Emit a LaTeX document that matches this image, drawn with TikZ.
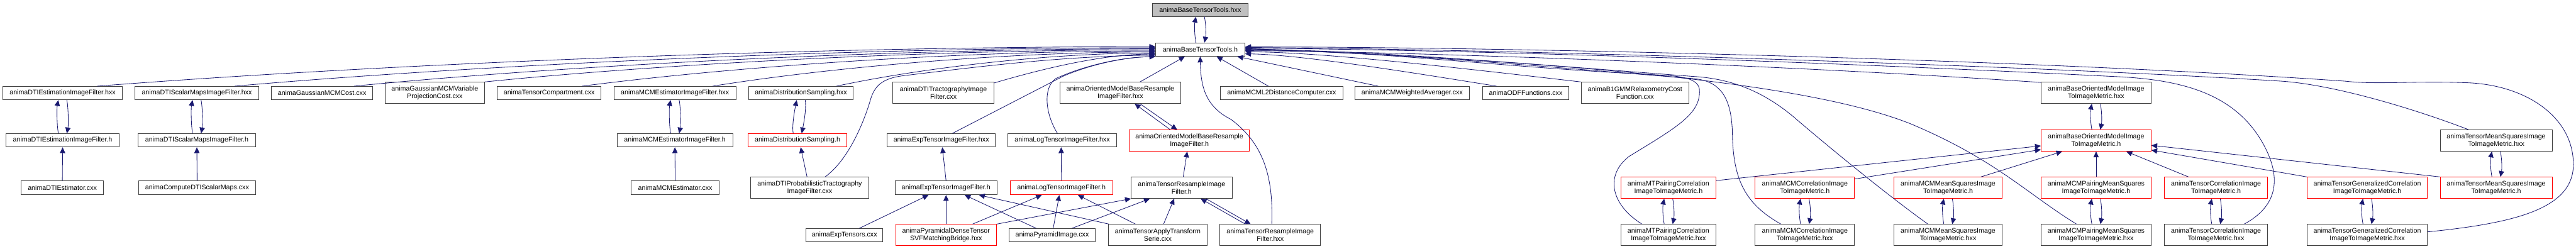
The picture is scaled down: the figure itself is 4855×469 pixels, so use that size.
\documentclass[tikz,border=0pt]{standalone}
\usepackage{fontspec}
\setmainfont{Liberation Sans}
\usetikzlibrary{arrows.meta}
\definecolor{eblue}{HTML}{191970}
\definecolor{bgray}{HTML}{404040}
\definecolor{fgray}{HTML}{BFBFBF}
\tikzset{
 nb/.style={draw=bgray, line width=1.2pt, inner sep=0pt, align=center, fill=white, font=\fontsize{12.65}{15}\selectfont},
 nr/.style={nb, draw=red},
 ng/.style={nb, fill=fgray},
 e/.style={draw=eblue, line width=1pt, -{Triangle[length=11pt,width=10pt]}},
}
\newcommand\nd[7]{\node[#7, minimum width={#3-#2}, minimum height={#5-#4}] (#1) at ({(#2+#3)/2},{(#4+#5)/2}) {#6};}
\newcommand\pair[2]{%
 \draw[e] ([xshift=-8]#2.north) .. controls +(-3,-15) and +(-3,15) .. ([xshift=-8]#1.south);
 \draw[e] ([xshift=8]#1.south) .. controls +(3,15) and +(3,-15) .. ([xshift=8]#2.north);}
\begin{document}
\begin{tikzpicture}[x=1pt,y=-1pt]
\useasboundingbox (0,0) rectangle (4855,469);
% row 0/1
\nd{bthx}{2172}{2352}{6}{31}{animaBaseTensorTools.hxx}{ng}
\nd{bth}{2178}{2346}{81}{106}{animaBaseTensorTools.h}{nb}
% row 2
\nd{dtiex}{5}{231}{163}{188}{animaDTIEstimationImageFilter.hxx}{nb}
\nd{dtisx}{254}{488}{163}{188}{animaDTIScalarMapsImageFilter.hxx}{nb}
\nd{gmc}{512}{702}{163}{188}{animaGaussianMCMCost.cxx}{nb}
\nd{gmv}{726}{913}{155}{195}{animaGaussianMCMVariable\\ProjectionCost.cxx}{nb}
\nd{tcomp}{937}{1133}{163}{188}{animaTensorCompartment.cxx}{nb}
\nd{mcmex}{1157}{1387}{163}{188}{animaMCMEstimatorImageFilter.hxx}{nb}
\nd{dsx}{1411}{1608}{163}{188}{animaDistributionSampling.hxx}{nb}
\nd{dtit}{1683}{1873}{155}{195}{animaDTITractographyImage\\Filter.cxx}{nb}
\nd{ombx}{1998}{2225}{155}{195}{animaOrientedModelBaseResample\\ImageFilter.hxx}{nb}
\nd{l2d}{2300}{2531}{163}{188}{animaMCML2DistanceComputer.cxx}{nb}
\nd{wavg}{2554}{2769}{163}{188}{animaMCMWeightedAverager.cxx}{nb}
\nd{odf}{2794}{2957}{163}{188}{animaODFFunctions.cxx}{nb}
\nd{b1}{2980}{3183}{155}{195}{animaB1GMMRelaxometryCost\\Function.cxx}{nb}
\nd{bomx}{3847}{4054}{155}{195}{animaBaseOrientedModelImage\\ToImageMetric.hxx}{nb}
% row 3
\nd{dtieh}{11}{225}{252}{277}{animaDTIEstimationImageFilter.h}{nb}
\nd{dtish}{260}{482}{252}{277}{animaDTIScalarMapsImageFilter.h}{nb}
\nd{mcmeh}{1163}{1381}{252}{277}{animaMCMEstimatorImageFilter.h}{nb}
\nd{dsh}{1410}{1596}{252}{277}{animaDistributionSampling.h}{nr}
\nd{expx}{1672}{1876}{252}{277}{animaExpTensorImageFilter.hxx}{nb}
\nd{logx}{1900}{2104}{252}{277}{animaLogTensorImageFilter.hxx}{nb}
\nd{ombh}{2128}{2355}{245}{285}{animaOrientedModelBaseResample\\ImageFilter.h}{nr}
\nd{bomh}{3847}{4054}{245}{285}{animaBaseOrientedModelImage\\ToImageMetric.h}{nr}
\nd{tmsx}{4599}{4810}{245}{285}{animaTensorMeanSquaresImage\\ToImageMetric.hxx}{nb}
% row 4
\nd{dtiec}{40}{195}{341}{367}{animaDTIEstimator.cxx}{nb}
\nd{cdti}{261}{482}{341}{367}{animaComputeDTIScalarMaps.cxx}{nb}
\nd{mcmec}{1190}{1355}{341}{367}{animaMCMEstimator.cxx}{nb}
\nd{dtip}{1415}{1637}{334}{374}{animaDTIProbabilisticTractography\\ImageFilter.cxx}{nb}
\nd{exph}{1687}{1879}{341}{367}{animaExpTensorImageFilter.h}{nb}
\nd{logh}{1904}{2097}{341}{367}{animaLogTensorImageFilter.h}{nr}
\nd{trh}{2132}{2322}{334}{374}{animaTensorResampleImage\\Filter.h}{nb}
\nd{mtpch}{3055}{3234}{334}{374}{animaMTPairingCorrelation\\ImageToImageMetric.h}{nr}
\nd{mcmch}{3308}{3495}{334}{374}{animaMCMCorrelationImage\\ToImageMetric.h}{nr}
\nd{mcmmsh}{3570}{3773}{334}{374}{animaMCMMeanSquaresImage\\ToImageMetric.h}{nr}
\nd{mcmpmsh}{3847}{4054}{334}{374}{animaMCMPairingMeanSquares\\ImageToImageMetric.h}{nr}
\nd{tch}{4079}{4274}{334}{374}{animaTensorCorrelationImage\\ToImageMetric.h}{nr}
\nd{tgch}{4348}{4575}{334}{374}{animaTensorGeneralizedCorrelation\\ImageToImageMetric.h}{nr}
\nd{tmsh}{4599}{4810}{334}{374}{animaTensorMeanSquaresImage\\ToImageMetric.h}{nr}
% row 5
\nd{expc}{1519}{1664}{431}{456}{animaExpTensors.cxx}{nb}
\nd{pyrb}{1688}{1878}{423}{463}{animaPyramidalDenseTensor\\SVFMatchingBridge.hxx}{nr}
\nd{pyrc}{1902}{2064}{431}{456}{animaPyramidImage.cxx}{nb}
\nd{tats}{2089}{2275}{423}{463}{animaTensorApplyTransform\\Serie.cxx}{nb}
\nd{trx}{2299}{2489}{423}{463}{animaTensorResampleImage\\Filter.hxx}{nb}
\nd{mtpcx}{3055}{3234}{423}{463}{animaMTPairingCorrelation\\ImageToImageMetric.hxx}{nb}
\nd{mcmcx}{3308}{3495}{423}{463}{animaMCMCorrelationImage\\ToImageMetric.hxx}{nb}
\nd{mcmmsx}{3570}{3773}{423}{463}{animaMCMMeanSquaresImage\\ToImageMetric.hxx}{nb}
\nd{mcmpmsx}{3847}{4054}{423}{463}{animaMCMPairingMeanSquares\\ImageToImageMetric.hxx}{nb}
\nd{tcx}{4079}{4274}{423}{463}{animaTensorCorrelationImage\\ToImageMetric.hxx}{nb}
\nd{tgcx}{4348}{4575}{423}{463}{animaTensorGeneralizedCorrelation\\ImageToImageMetric.hxx}{nb}

% pairs h <-> hxx
\pair{bthx}{bth}
\pair{dtiex}{dtieh}
\pair{dtisx}{dtish}
\pair{mcmex}{mcmeh}
\pair{dsx}{dsh}
\pair{bomx}{bomh}
\pair{tmsx}{tmsh}
\pair{mtpch}{mtpcx}
\pair{mcmch}{mcmcx}
\pair{mcmmsh}{mcmmsx}
\pair{mcmpmsh}{mcmpmsx}
\pair{tch}{tcx}
\pair{tgch}{tgcx}

% short edges, left part
\draw[e] (dtiec.north) -- (dtieh.south);
\draw[e] (cdti.north) -- (dtish.south);
\draw[e] (mcmec.north) -- (mcmeh.south);
\draw[e] ([xshift=-5]dtip.north) -- ([xshift=6]dsh.south);
\draw[e] (exph.north) -- ([xshift=2]expx.south);
\draw[e] (logh.north) -- ([xshift=-2]logx.south);
\draw[e] ([xshift=28]expc.north) -- ([xshift=-33]exph.south);
\draw[e] (pyrb.north) -- (exph.south);
\draw[e] ([xshift=-30]pyrc.north) -- ([xshift=35]exph.south);
\draw[e] ([xshift=-92]tats.north) -- ([xshift=62]exph.south);
\draw[e] ([xshift=50]pyrb.north) -- ([xshift=-37]logh.south);
\draw[e] ([xshift=2]pyrc.north) -- ([xshift=-4]logh.south);
\draw[e] ([xshift=-42]tats.north) -- ([xshift=31]logh.south);
\draw[e] (pyrb.north east) -- (trh.south west);
\draw[e] ([xshift=37]pyrc.north) -- ([xshift=-60]trh.south);
\draw[e] ([xshift=11]tats.north) -- ([xshift=-14]trh.south);
\draw[e] ([xshift=-47]trx.north) -- ([xshift=36]trh.south);
\draw[e] ([xshift=46]trh.south) -- ([xshift=-37]trx.north);
\draw[e] ([xshift=3]trh.north) -- ([xshift=-4]ombh.south);
\draw[e] ([xshift=-36]ombh.north) -- ([xshift=27]ombx.south);
\draw[e] ([xshift=37]ombx.south) -- ([xshift=-23]ombh.north);
\draw[e] ([xshift=37]ombx.north) -- ([xshift=-29]bth.south);
\draw[e] ([xshift=-25]l2d.north) -- ([xshift=31]bth.south);
\draw[e] ([xshift=-64]wavg.north) -- ([xshift=70]bth.south);

% long edges into bth from the left
\draw[e] ([xshift=65]dtiex.north) .. controls (703,122) and (1498,88) .. ([yshift=5.5]bth.west);
\draw[e] ([xshift=71]dtisx.north) .. controls (892,123) and (1588,90) .. ([yshift=3.5]bth.west);
\draw[e] ([xshift=60]gmc.north) .. controls (1057,124) and (1668,92) .. ([yshift=1.5]bth.west);
\draw[e] (gmv.north east) .. controls (1243,121) and (1748,94) .. ([yshift=-0.5]bth.west);
\draw[e] ([xshift=62]tcomp.north) .. controls (1377,126) and (1808,96) .. ([yshift=-2.5]bth.west);
\draw[e] ([xshift=71]mcmex.north) .. controls (1563,127) and (1898,98) .. ([yshift=-4.5]bth.west);
\draw[e] ([xshift=67]dsx.north) .. controls (1737,128) and (1978,100) .. ([yshift=-6.5]bth.west);
\draw[e] ([yshift=-2]dtit.north east) .. controls (1963,130) and (2078,102) .. ([yshift=-8.5]bth.west);
\draw[e] ([xshift=29]dtip.north) .. controls (1595,305) and (1625,240) .. (1640,190)
   .. controls (1648,160) and (1665,148) .. (1700,143)
   .. controls (1850,125) and (2000,106) .. ([yshift=-10.5]bth.west);
\draw[e] ([xshift=21]expx.north) -- (2005,143) .. controls (2060,120) and (2120,108) .. (bth.south west);
\draw[e] ([xshift=-9]logx.north) .. controls (1970,215) and (1965,165) .. (1990,148)
   .. controls (2040,125) and (2110,108) .. (bth.south west);

% long edges into bth from the right
\draw[e] ([xshift=3]trx.north) .. controls (2400,330) and (2380,270) .. (2320,225)
   .. controls (2270,200) and (2263,160) .. (bth.south);
\draw[e] ([xshift=-55]odf.north) .. controls (2650,135) and (2450,103) .. ([yshift=-8]bth.east);
\draw[e] (b1.north west) .. controls (2750,128) and (2500,99) .. ([yshift=-4]bth.east);
\draw[e] ([yshift=-1]bomx.north west) .. controls (3400,125) and (2700,98) .. ([yshift=-2]bth.east);
\draw[e] ([xshift=-50]mtpcx.north) .. controls (3035,385) and (3025,330) .. (3070,295)
   .. controls (3160,240) and (3205,215) .. (3203,170)
   .. controls (3202,148) and (3170,143) .. (3120,141)
   .. controls (2800,125) and (2600,95) .. ([yshift=-1]bth.east);
\draw[e] ([xshift=-45]mcmcx.north) .. controls (3290,385) and (3266,340) .. (3265,250)
   .. controls (3263,180) and (3240,152) .. (3190,148)
   .. controls (2900,125) and (2600,97) .. (bth.east);
\draw[e] ([xshift=-38]mcmmsx.north) .. controls (3560,370) and (3450,280) .. (3380,220)
   .. controls (3320,170) and (3260,148) .. (3190,144)
   .. controls (2900,122) and (2600,96) .. ([yshift=1]bth.east);
\draw[e] ([xshift=-37]mcmpmsx.north) .. controls (3820,365) and (3760,300) .. (3600,233)
   .. controls (3440,170) and (3100,122) .. ([yshift=2]bth.east);
\draw[e] ([xshift=53]tcx.north) .. controls (4290,390) and (4300,340) .. (4270,280)
   .. controls (4220,180) and (4120,152) .. (4000,145)
   .. controls (3400,115) and (2800,95) .. ([yshift=3]bth.east);
\draw[e] ([xshift=-52]tmsx.north) .. controls (4550,205) and (4400,160) .. (4300,153)
   .. controls (3800,122) and (2800,92) .. ([yshift=4]bth.east);
\draw[e] ([yshift=6]tgcx.east) .. controls (4750,420) and (4850,390) .. (4850,310)
   .. controls (4850,220) and (4760,160) .. (4650,156)
   .. controls (4550,152) and (4480,160) .. (4420,153)
   .. controls (3800,110) and (2800,88) .. ([yshift=5]bth.east);

% edges into the base oriented model metric header
\draw[e] ([yshift=-7]mtpch.north east) -- ([yshift=-10]bomh.west);
\draw[e] ([yshift=-4]mcmch.north east) -- ([yshift=-17]bomh.west);
\draw[e] ([xshift=62]mcmmsh.north) -- ([xshift=-64]bomh.south);
\draw[e] (mcmpmsh.north) -- (bomh.south);
\draw[e] ([xshift=-52]tch.north) -- ([xshift=57]bomh.south);
\draw[e] (tgch.north west) -- ([yshift=-18]bomh.east);
\draw[e] (tmsh.north west) -- ([yshift=-9]bomh.east);
\end{tikzpicture}
\end{document}
